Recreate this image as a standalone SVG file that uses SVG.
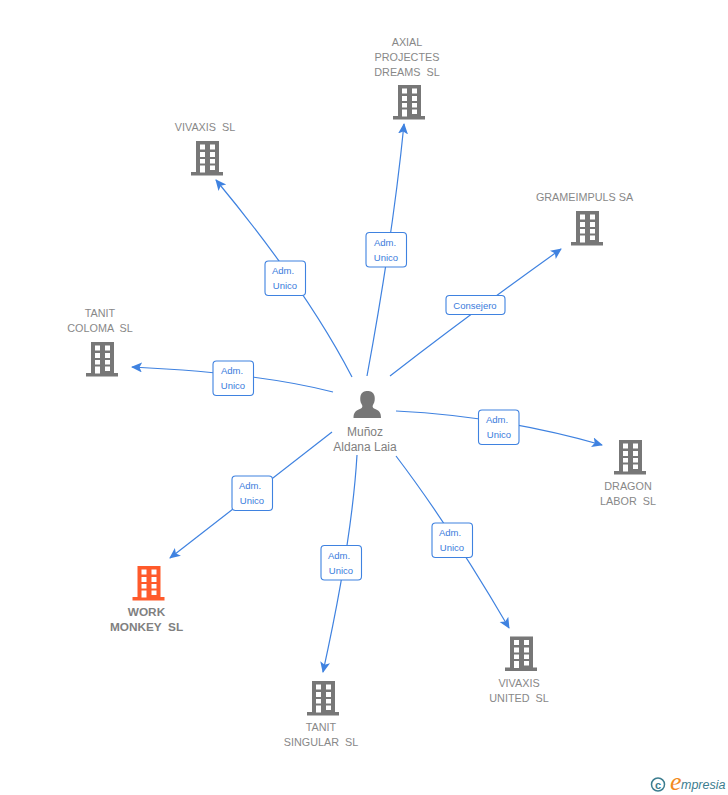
<svg xmlns="http://www.w3.org/2000/svg" width="728" height="795" viewBox="0 0 728 795">
<style>
text{font-family:"Liberation Sans",Arial,sans-serif}
.n{font-size:10.8px;fill:#888;text-anchor:middle}
.w{font-size:11.8px;font-weight:bold;fill:#808080;text-anchor:middle}
.p{font-size:12px;fill:#808080;text-anchor:middle}
.l{font-size:9.5px;fill:#3a7bdc;text-anchor:middle}
.c{fill:none;stroke:#3f82e0;stroke-width:1.2;marker-end:url(#a)}
.b{fill:#fff;stroke:#3f82e0;stroke-width:1.1}
</style>
<defs>
<marker id="a" markerUnits="userSpaceOnUse" markerWidth="12" markerHeight="12" refX="10" refY="5" orient="auto"><path d="M0 0L11 5L0 10L2.500 5Z" fill="#3f82e0"/></marker>
<g id="bld">
<path d="M-11 0H12V31H16V34.500H-16V31H-11Z"/>
<g fill="#fff"><rect x="-7" y="3.500" width="5" height="5"/><rect x="3" y="3.500" width="5" height="5"/><rect x="-7" y="11" width="5" height="5"/><rect x="3" y="11" width="5" height="5"/><rect x="-7" y="18" width="5" height="4.500"/><rect x="3" y="18" width="5" height="4.500"/><rect x="-7" y="24.500" width="5" height="7"/><rect x="3" y="24.500" width="5" height="4.500"/></g>
</g>
</defs>
<g id="connectors">
<path class="c" d="M367 376Q393 235 404 124"/>
<path class="c" d="M352 377Q307 290 216 180"/>
<path class="c" d="M390 376Q470 314 561 249"/>
<path class="c" d="M333 392Q260 373 132 367"/>
<path class="c" d="M396 411Q500 416 602 445"/>
<path class="c" d="M396 456Q450 527 509 628"/>
<path class="c" d="M357 455Q352 540 323 672"/>
<path class="c" d="M332 432Q250 496 170 558"/>
</g>
<g id="edge-labels">
<g><rect class="b" x="366" y="232.500" width="40.500" height="34.500" rx="3.500"/><text class="l" x="385" y="246">Adm.</text><text class="l" x="386" y="261">Unico</text></g>
<g><rect class="b" x="265" y="261" width="40.500" height="34.500" rx="3.500"/><text class="l" x="283" y="274">Adm.</text><text class="l" x="285" y="289">Unico</text></g>
<g><rect class="b" x="446" y="295.500" width="59" height="19" rx="3.500"/><text class="l" x="475" y="308.500">Consejero</text></g>
<g><rect class="b" x="213" y="361" width="40.500" height="34.500" rx="3.500"/><text class="l" x="232" y="374">Adm.</text><text class="l" x="233" y="389">Unico</text></g>
<g><rect class="b" x="478.500" y="410" width="40.500" height="34.500" rx="3.500"/><text class="l" x="497" y="423">Adm.</text><text class="l" x="499" y="438">Unico</text></g>
<g><rect class="b" x="232" y="476" width="40.500" height="34.500" rx="3.500"/><text class="l" x="250" y="489">Adm.</text><text class="l" x="252" y="504">Unico</text></g>
<g><rect class="b" x="432" y="523" width="40.500" height="34.500" rx="3.500"/><text class="l" x="450" y="536">Adm.</text><text class="l" x="452" y="551">Unico</text></g>
<g><rect class="b" x="321" y="545.500" width="40.500" height="34.500" rx="3.500"/><text class="l" x="339" y="559">Adm.</text><text class="l" x="341" y="574">Unico</text></g>
</g>
<g id="person">
<path fill="#777" d="M353.500 418C353.500 412 356 410.500 361 408.500C362.500 407.800 362.800 406 361.800 404.500C360 402 360 398.500 360.500 396C361.500 392 364.500 391 367.500 391C370.500 391 373.500 392 374.500 396C375 398.500 375 402 373.200 404.500C372.200 406 372.500 407.800 374 408.500C379 410.500 381 412 381 418Z"/>
<text class="p" x="365" y="436">Muñoz</text><text class="p" x="365" y="451">Aldana Laia</text>
</g>
<g id="axial" fill="#777"><use href="#bld" x="409" y="85"/><text class="n" x="407" y="46">AXIAL</text><text class="n" x="407" y="61">PROJECTES</text><text class="n" x="407" y="76" xml:space="preserve">DREAMS  SL</text></g>
<g id="vivaxis" fill="#777"><use href="#bld" x="207" y="141"/><text class="n" x="205" y="131" xml:space="preserve">VIVAXIS  SL</text></g>
<g id="grameimpuls" fill="#777"><use href="#bld" x="587" y="211"/><text class="n" x="584.500" y="201">GRAMEIMPULS SA</text></g>
<g id="tanit-coloma" fill="#777"><use href="#bld" x="102" y="342"/><text class="n" x="100" y="317">TANIT</text><text class="n" x="100" y="332" xml:space="preserve">COLOMA  SL</text></g>
<g id="dragon" fill="#777"><use href="#bld" x="630" y="440"/><text class="n" x="628" y="490">DRAGON</text><text class="n" x="628" y="505" xml:space="preserve">LABOR  SL</text></g>
<g id="vivaxis-united" fill="#777"><use href="#bld" x="521" y="636.500"/><text class="n" x="519" y="687">VIVAXIS</text><text class="n" x="519" y="702" xml:space="preserve">UNITED  SL</text></g>
<g id="tanit-singular" fill="#777"><use href="#bld" x="323" y="681"/><text class="n" x="321" y="731">TANIT</text><text class="n" x="321" y="746" xml:space="preserve">SINGULAR  SL</text></g>
<g id="work-monkey" fill="#ff5a2b"><use href="#bld" x="148.500" y="566"/><text class="w" x="146.500" y="616">WORK</text><text class="w" x="146.500" y="631" xml:space="preserve">MONKEY  SL</text></g>
<g id="logo">
<circle cx="658" cy="784.500" r="6.500" fill="none" stroke="#3c7d8f" stroke-width="1.500"/>
<text x="658" y="788.500" font-size="11" font-weight="bold" fill="#3c7d8f" text-anchor="middle">c</text>
<text x="670" y="790" font-size="26" font-style="italic" fill="#f28a1e" style="font-family:'Liberation Serif',serif">e</text>
<text x="681" y="789" font-size="12.500" font-style="italic" fill="#3c7d8f">mpresia</text>
</g>
</svg>
